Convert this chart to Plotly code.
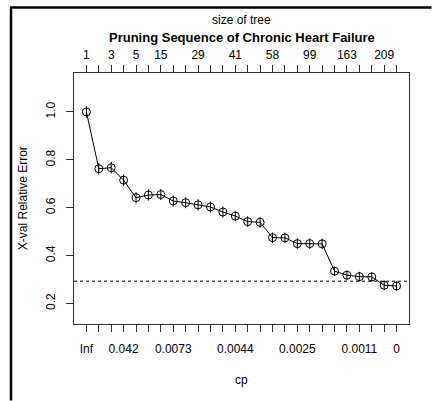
import plotly.graph_objects as go

# ---- data ----
step = list(range(1, 27))
xerror = [1.000, 0.763, 0.767, 0.715, 0.642, 0.653, 0.655, 0.628, 0.621, 0.612,
          0.603, 0.582, 0.565, 0.542, 0.539, 0.475, 0.474, 0.450, 0.450, 0.449,
          0.335, 0.318, 0.312, 0.311, 0.276, 0.273]
xstd = [0.024, 0.024, 0.024, 0.024, 0.023, 0.023, 0.023, 0.023, 0.023, 0.023,
        0.023, 0.023, 0.022, 0.022, 0.022, 0.022, 0.022, 0.022, 0.022, 0.022,
        0.020, 0.020, 0.020, 0.020, 0.020, 0.020]
cp_labels = ["Inf", "", "", "0.042", "", "", "", "0.0073", "", "", "", "", "0.0044",
             "", "", "", "", "0.0025", "", "", "", "", "0.0011", "", "", "0"]
size_labels = ["1", "", "3", "", "5", "", "15", "", "", "29", "", "", "41", "",
               "", "58", "", "", "99", "", "", "163", "", "", "209", ""]
y_ticks = [0.2, 0.4, 0.6, 0.8, 1.0]
y_ticktext = ["0.2", "0.4", "0.6", "0.8", "1.0"]

# ---- ranges (R plotcp style) ----
lo = min(e - s for e, s in zip(xerror, xstd)) - 0.1
hi = max(e + s for e, s in zip(xerror, xstd)) + 0.1
ext = (hi - lo) * 0.04
yr = [lo - ext, hi + ext]
n = len(step)
xr = [1 - (n - 1) * 0.04, n + (n - 1) * 0.04]
minpos = xerror.index(min(xerror))
minline = xerror[minpos] + xstd[minpos]

FONT = "Liberation Sans, Arial, Helvetica, sans-serif"

fig = go.Figure()
fig.add_trace(go.Scatter(
    x=step, y=xerror, mode="lines+markers",
    line=dict(color="black", width=1),
    marker=dict(symbol="circle-open", size=8, color="black", line=dict(width=1)),
    error_y=dict(type="data", array=xstd, visible=True, width=0, thickness=1, color="black"),
    showlegend=False, hoverinfo="skip"))
fig.add_trace(go.Scatter(x=step, y=xerror, xaxis="x2", mode="markers",
                         marker=dict(opacity=0), showlegend=False, hoverinfo="skip"))

W, H = 432, 401
L, R, T, B = 74, 23, 73, 77
pw, ph = W - L - R, H - T - B

def px(xp):
    return (xp - L) / pw

def py(yp):
    return (H - B - yp) / ph

fig.add_shape(type="line", xref="x", yref="y", x0=xr[0], x1=xr[1], y0=minline, y1=minline,
              line=dict(color="black", width=1, dash="dot"))
# outer frame: top and left edges
fig.add_shape(type="line", xref="paper", yref="paper", x0=px(10), x1=px(431.5), y0=py(7.5), y1=py(7.5),
              line=dict(color="black", width=2.5))
fig.add_shape(type="line", xref="paper", yref="paper", x0=px(11), x1=px(11), y0=py(7), y1=py(400.5),
              line=dict(color="black", width=2.5))

axis_common = dict(showgrid=False, zeroline=False, ticks="outside", ticklen=7, automargin=False,
                   tickwidth=1, tickcolor="#333", tickfont=dict(size=12, color="black", family=FONT))

fig.update_layout(
    width=W, height=H, margin=dict(l=L, r=R, t=T, b=B, pad=0),
    plot_bgcolor="white", paper_bgcolor="white",
    font=dict(family=FONT, size=12, color="black"),
    xaxis=dict(range=xr, tickvals=step, ticktext=cp_labels, showline=True, mirror=True,
               linecolor="#333", linewidth=1, ticklabelstandoff=7, **axis_common),
    xaxis2=dict(range=xr, overlaying="x", side="top", tickvals=step, ticktext=size_labels,
                showline=False, ticklabelstandoff=1, **axis_common),
    yaxis=dict(range=yr, tickvals=y_ticks, ticktext=y_ticktext, tickangle=-90,
               showline=True, mirror=True, linecolor="#333", linewidth=1,
               ticklabelstandoff=6, **axis_common),
    annotations=[
        dict(text="size of tree", xref="paper", yref="paper", x=0.5, y=py(20),
             showarrow=False, font=dict(size=12), xanchor="center", yanchor="middle"),
        dict(text="<b>Pruning Sequence of Chronic Heart Failure</b>", xref="paper", yref="paper",
             x=0.5, y=py(38), showarrow=False, font=dict(size=13), xanchor="center", yanchor="middle"),
        dict(text="cp", xref="paper", yref="paper", x=0.5, y=py(380),
             showarrow=False, font=dict(size=12), xanchor="center", yanchor="middle"),
        dict(text="X-val Relative Error", xref="paper", yref="paper", x=px(22.7), y=0.5,
             textangle=-90, showarrow=False, font=dict(size=12), xanchor="center", yanchor="middle"),
    ],
)

fig.write_html("out.html", config={"displayModeBar": False},
               post_script="document.body.style.margin='0px';document.body.style.overflow='hidden';")
